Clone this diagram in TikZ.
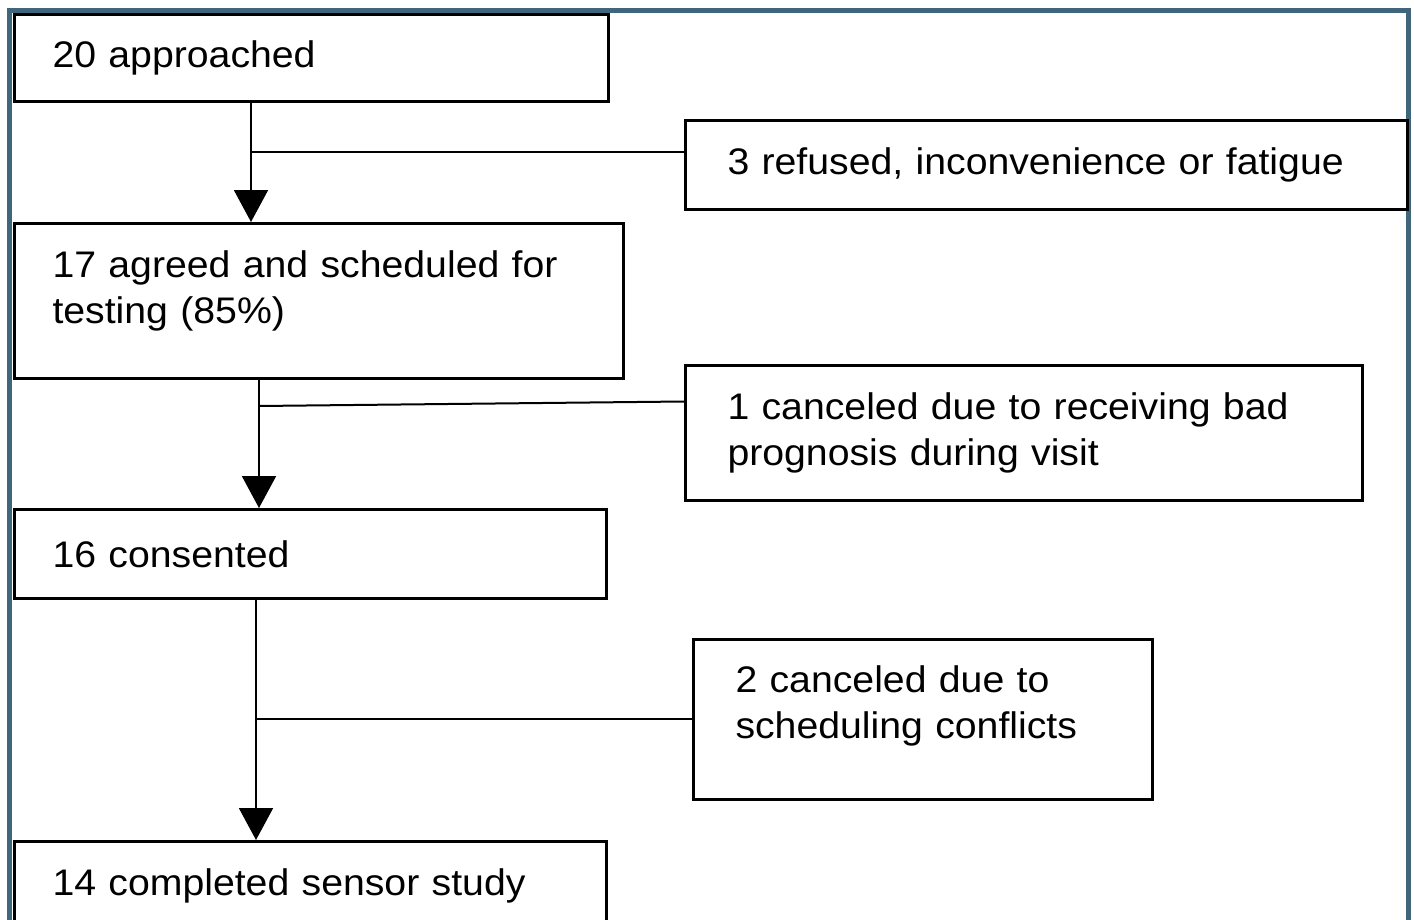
\documentclass[tikz,border=0pt]{standalone}
\usepackage{fontspec}
\setmainfont{Liberation Sans}[FakeStretch=1.06]
\usetikzlibrary{arrows.meta}
\definecolor{framecol}{RGB}{64,102,124}
\newcommand{\padbelow}[1]{\rule[-#1]{0pt}{#1}}
\newcommand{\boxfont}{\fontsize{18.5}{23}\selectfont\setlength{\spaceskip}{0.4em}}
\tikzset{
  flowbox/.style={draw, line width=1.5pt, anchor=north west, align=left,
    inner xsep=21pt, inner ysep=0pt, font=\boxfont},
  leftbox/.style={flowbox, inner xsep=19pt},
  flowarrow/.style={line width=1pt, -{Triangle[length=16pt,width=17pt]}},
  sideline/.style={line width=1pt}
}

\begin{document}
\begin{tikzpicture}[x=0.5pt,y=-0.5pt]
\useasboundingbox (0,0) rectangle (1414,920);
% frame round the figure
\draw[framecol, line width=2.5pt] (9.5,925) -- (9.5,10.5) -- (1408.5,10.5) -- (1408.5,925);

\node[leftbox, text width=259pt, minimum height=43.5pt] (approach) at (13,13) {20 approached};
\node[flowbox, text width=319pt, minimum height=44.5pt] (refused) at (684,119) {3 refused, inconvenience or fatigue};
\node[leftbox, text width=266.5pt, minimum height=77.5pt] (agreed) at (13,222) {17 agreed and scheduled for\\testing (85\%)\padbelow{14pt}};
\node[flowbox, text width=296.5pt, minimum height=67.5pt] (cancelA) at (684,364) {1 canceled due to receiving bad\\prognosis during visit};
\node[leftbox, text width=258pt, minimum height=44.5pt] (consent) at (13,508) {16 consented};
\node[flowbox, text width=187.5pt, minimum height=80pt] (cancelB) at (692,638) {2 canceled due to\\scheduling conflicts\padbelow{17pt}};
\node[leftbox, text width=258pt, minimum height=44pt] (complete) at (13,840) {14 completed sensor study};

% main flow and the drop-outs
\coordinate (b1) at (251,152);
\coordinate (b2) at (259,406);
\coordinate (b3) at (256,719);
\draw[flowarrow] (approach.south -| b1) -- (agreed.north -| b1);
\draw[sideline] (b1) -- (b1 -| refused.west);
\draw[flowarrow] (agreed.south -| b2) -- (consent.north -| b2);
\draw[sideline] (b2) -- ([yshift=15.75pt]cancelA.west);
\draw[flowarrow] (consent.south -| b3) -- (complete.north -| b3);
\draw[sideline] (b3) -- (b3 -| cancelB.west);
\end{tikzpicture}
\end{document}
